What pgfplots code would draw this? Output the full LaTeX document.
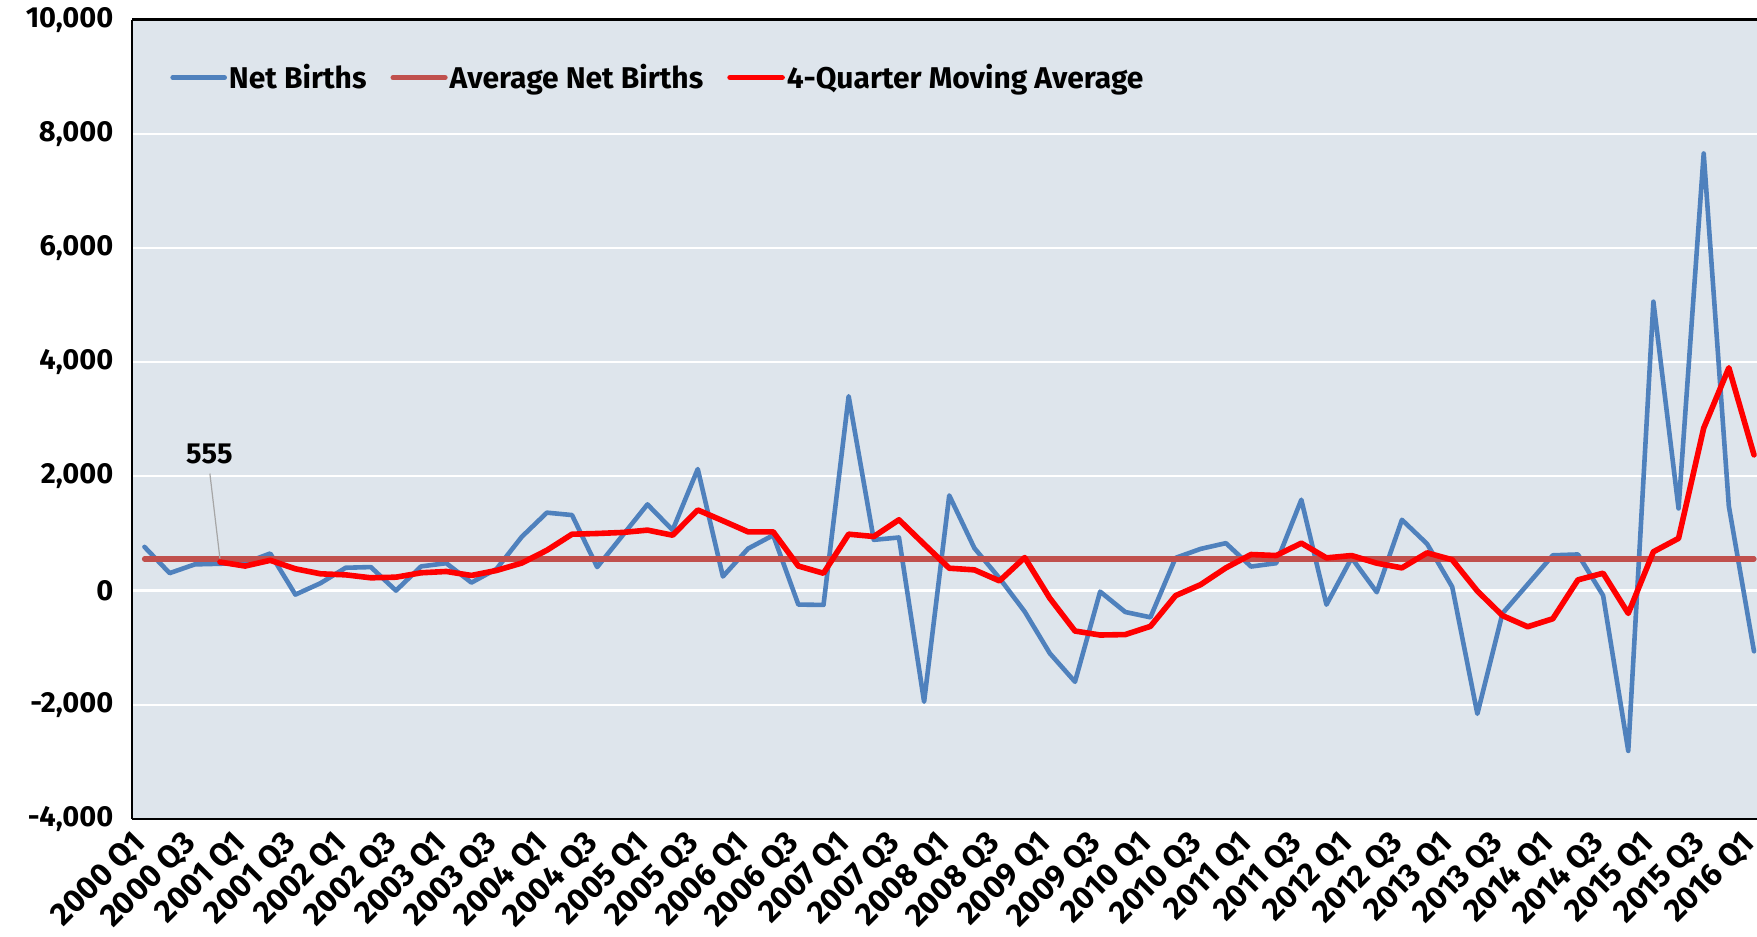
\documentclass[border=0pt]{standalone}
\usepackage{fontspec}
\setmainfont{Fira Sans}
\usepackage{pgfplots}
\usepackage{pgfplotstable}
\pgfplotsset{compat=1.18}
\definecolor{bgc}{RGB}{222,229,236}
\definecolor{nbblue}{RGB}{79,129,189}
\definecolor{avgred}{RGB}{192,80,77}
\definecolor{mared}{RGB}{255,0,0}

\pgfplotstableread{
i nb
0 765
1 306
2 459
3 470
4 485
5 650
6 -70
7 130
8 400
9 412
10 0
11 424
12 480
13 140
14 380
15 941
16 1365
17 1323
18 412
19 960
20 1510
21 1059
22 2129
23 247
24 735
25 970
26 -245
27 -251
28 3404
29 889
30 930
31 -1947
32 1667
33 743
34 216
35 -368
36 -1099
37 -1597
38 -18
39 -375
40 -468
41 573
42 731
43 831
44 421
45 480
46 1591
47 -246
48 573
49 -29
50 1240
51 819
52 65
53 -2158
54 -399
55 109
56 618
57 633
58 -86
59 -2807
60 5059
61 1439
62 7655
63 1478
64 -1063
}\nbdata

\pgfplotstableread{
i ma
3 500
4 430
5 530
6 382
7 294
8 276
9 224
10 235
11 312
12 335
13 265
14 353
15 482
16 706
17 988
18 1000
19 1018
20 1059
21 970
22 1412
23 1223
24 1029
25 1029
26 430
27 304
28 988
29 947
30 1240
31 813
32 392
33 363
34 170
35 579
36 -134
37 -708
38 -778
39 -770
40 -626
41 -88
42 105
43 398
44 632
45 614
46 831
47 573
48 614
49 480
50 398
51 661
52 540
53 -8
54 -438
55 -633
56 -493
57 188
58 305
59 -399
60 680
61 915
62 2846
63 3902
64 2377
}\madata

\begin{document}
\begin{tikzpicture}
\begin{axis}[
  name=ax,
  scale only axis, width=812.35pt, height=399.7pt,
  xmin=-0.485, xmax=64.12, ymin=-4000, ymax=10000,
  axis background/.style={fill=bgc},
  axis x line*=box, axis y line*=left,
  axis line style={black, line width=1.2pt},
  ytick={-4000,-2000,...,10000},
  scaled y ticks=false,
  xtick={0,2,...,64},
  xticklabels={2000 Q1,2000 Q3,2001 Q1,2001 Q3,2002 Q1,2002 Q3,2003 Q1,2003 Q3,2004 Q1,2004 Q3,2005 Q1,2005 Q3,2006 Q1,2006 Q3,2007 Q1,2007 Q3,2008 Q1,2008 Q3,2009 Q1,2009 Q3,2010 Q1,2010 Q3,2011 Q1,2011 Q3,2012 Q1,2012 Q3,2013 Q1,2013 Q3,2014 Q1,2014 Q3,2015 Q1,2015 Q3,2016 Q1},
  major tick length=0pt,
  ymajorgrids, grid style={white, line width=1.1pt},
  /pgf/number format/assume math mode=true,
  /pgf/number format/1000 sep={,},
  /pgf/number format/fixed,
  yticklabel style={font=\bfseries\fontsize{14.5}{16}\selectfont, xshift=-6pt},
  xticklabel style={font=\bfseries\fontsize{16}{18}\selectfont, rotate=45, anchor=north east, inner xsep=8.3pt, inner ysep=-1.6pt},
  legend style={at={(axis description cs:0.0232,0.9274)}, anchor=west, draw=none, fill=none, inner sep=0pt,
    font=\bfseries\fontsize{15}{17}\selectfont,
    /tikz/every odd column/.style={column sep=0pt},
    /tikz/every even column/.style={column sep=11pt},
    nodes={inner sep=1pt}},
  legend columns=-1,
  legend image code/.code={\draw[#1, line cap=round] (0pt,0pt) -- (26pt,0pt);},
]
\addplot[nbblue, line width=2.3pt, line join=round, line cap=round] table[x=i, y=nb] {\nbdata};
\addlegendentry{Net Births}
\addplot[avgred, line width=2.6pt, line cap=round] coordinates {(0,555) (64,555)};
\addlegendentry{Average Net Births}
\addplot[mared, line width=2.8pt, line join=round, line cap=round] table[x=i, y=ma] {\madata};
\addlegendentry{4-Quarter Moving Average}
\draw[gray!70, line width=0.6pt] (axis cs:2.6,2050) -- (axis cs:3,560);
\node[font=\bfseries\fontsize{14.5}{16}\selectfont] at (axis cs:2.58,2396) {555};
\end{axis}
\pgfresetboundingbox
\path[use as bounding box] ([xshift=-66.15pt,yshift=-59pt]ax.south west) rectangle ([yshift=9.8pt]ax.north east);
\end{tikzpicture}
\end{document}
